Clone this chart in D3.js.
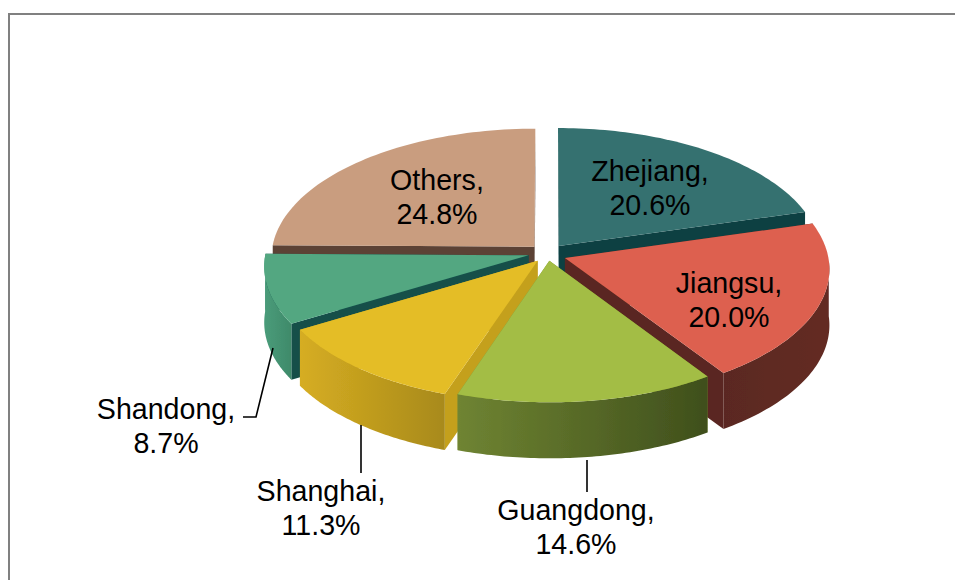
<!DOCTYPE html>
<html><head><meta charset="utf-8">
<script src="https://cdnjs.cloudflare.com/ajax/libs/d3/7.8.5/d3.min.js"></script>
<style>html,body{margin:0;padding:0;background:#fff}svg{display:block}</style>
</head><body><svg id="c" width="955" height="580"></svg>
<script>
const categories = ["Zhejiang","Jiangsu","Guangdong","Shanghai","Shandong","Others"];
const shares = [20.6,20.0,14.6,11.3,8.7,24.8];
const topColors = ["#35716f","#dd6150","#a3bd44","#e4bd27","#52a781","#c99d7f"];
const cutColors = ["#0f3f42","#5a2820","#7d9030","#c4a01e","#14504a","#5b4236"];
const wallLeft  = ["#35716f","#5a2820","#6f8432","#d6ad22","#4a9c7a","#5b4236"];
const wallRight = ["#35716f","#642c24","#3f4f1c","#a88a1a","#3f8a6a","#5b4236"];
const labelX = [650,729,576,321,166,437];
const labelY = [181,293,520,501,419,190];
const nudgeX = [0,0,-1,1,-2,-1];
const nudgeY = [2,4,1,3,2,2];

const W=955,H=580,cx=548,cy=251,R=263,k=0.489,dist=3250,depth=56,explode=18;
const svg=d3.select("#c");
const defs=svg.append("defs");
defs.append("filter").attr("id","soft").append("feGaussianBlur").attr("stdDeviation",0.5);
const pie=d3.pie().value(d=>d).sort(null);
const arcs=pie(shares);
const project=(u,v)=>{const s=1/(1-v/dist);return [cx+u*s,cy+v*k*s];};
const line=d3.line();
// frame: left and top rules only
svg.append("path").attr("d","M9,580V14H955").attr("fill","none").attr("stroke","#808080").attr("stroke-width",2);

const pieG=svg.append("g").attr("filter","url(#soft)");
const order=[5,0,4,1,3,2];
order.forEach(i=>{
  const d=arcs[i], mid=(d.startAngle+d.endAngle)/2;
  const pt=(a,r)=>{
    const ou=Math.sin(mid)*explode, ov=-Math.cos(mid)*explode;
    const p=project(ou+Math.sin(a)*r, ov-Math.cos(a)*r);
    return [p[0]+nudgeX[i],p[1]+nudgeY[i]];
  };
  const angs=d3.range(0,61).map(j=>d.startAngle+(d.endAngle-d.startAngle)*j/60);
  const rim=angs.map(a=>pt(a,R));
  const tip=pt(0,0);
  const down=p=>[p[0],p[1]+depth];
  const gid="w"+i;
  const g=defs.append("linearGradient").attr("id",gid);
  g.append("stop").attr("offset",0).attr("stop-color",wallLeft[i]);
  g.append("stop").attr("offset",1).attr("stop-color",wallRight[i]);
  const G=pieG.append("g").attr("class","slice");
  [rim[0],rim[rim.length-1]].forEach(c=>{
    G.append("path").attr("d",line([tip,c,down(c),down(tip)])+"Z").attr("fill",cutColors[i]);
  });
  const front=angs.filter(a=>a>=Math.PI/2&&a<=1.5*Math.PI).map(a=>pt(a,R));
  if(front.length>1){
    G.append("path").attr("d",line(front.concat(front.slice().reverse().map(down)))+"Z").attr("fill",`url(#${gid})`);
  }
  G.append("path").attr("d",line([tip].concat(rim))+"Z").attr("fill",topColors[i]);
});
// leaders
[[[273,348],[256,417],[243,417]],[[361,425],[361,473]],[[587,460],[587,492]]].forEach(p=>{
  svg.append("path").attr("d",line(p)).attr("fill","none").attr("stroke","#000").attr("stroke-width",1.6);
});
// labels
categories.forEach((c,i)=>{
  const t=svg.append("text").attr("text-anchor","middle").attr("font-family","'Liberation Sans',Arial,sans-serif").attr("font-size",28.6).attr("fill","#000");
  t.append("tspan").attr("x",labelX[i]).attr("y",labelY[i]).text(c+",");
  t.append("tspan").attr("x",labelX[i]).attr("y",labelY[i]+34).text(d3.format(".1f")(shares[i])+"%");
});
</script></body></html>
